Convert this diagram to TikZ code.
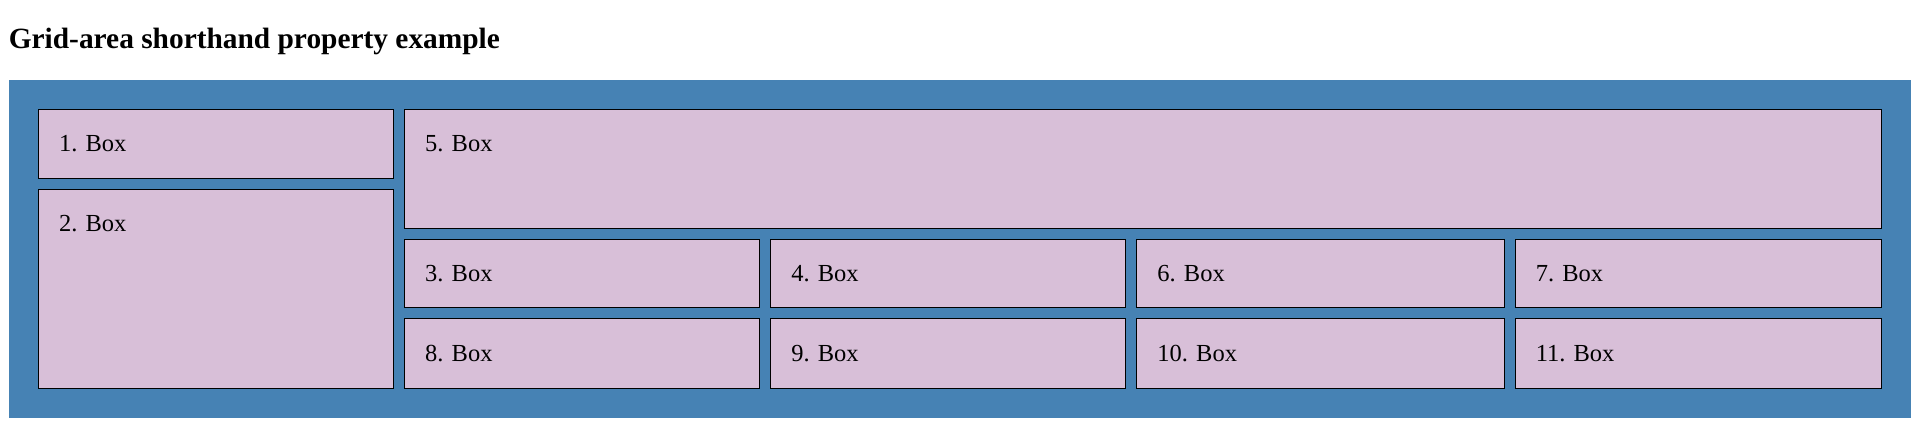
\documentclass[tikz,border=0pt]{standalone}
\usepackage{fontspec}
\setmainfont{Liberation Serif}
\definecolor{steel}{HTML}{4682B4}
\definecolor{thist}{HTML}{D8BFD8}
\begin{document}
\begin{tikzpicture}[x=1pt,y=-1pt,
  gbox/.style={draw=black,line width=0.8pt,fill=thist,inner sep=0pt,anchor=north west},
  lbl/.style={anchor=base west,inner sep=0pt,font=\fontsize{20}{24}\selectfont}]
\useasboundingbox (0,0) rectangle (1568,345.4);
\fill[white] (0,0) rectangle (1568,345.4);
\node[anchor=base west,inner sep=0pt,font=\fontsize{24}{28}\selectfont\bfseries] (title) at (7,40) {Grid-area shorthand property example};
\fill[steel] (7,65) rectangle (1561,341);
\newcommand\gb[6]{%
  \node[gbox,minimum width=#4pt,minimum height=#5pt] (#1) at (#2,#3) {};
  \node[lbl] (#1t) at ([xshift=17pt,yshift=-35pt]#1.north west) {#6};}
\gb{b1}{31}{89}{290}{56}{1. Box}
\gb{b2}{31}{154}{290}{163}{2. Box}
\gb{b5}{330}{89}{1206}{97}{5. Box}
\gb{b3}{330}{195}{290}{56}{3. Box}
\gb{b4}{629}{195}{290}{56}{4. Box}
\gb{b6}{928}{195}{300}{56}{6. Box}
\gb{b7}{1237}{195}{299}{56}{7. Box}
\gb{b8}{330}{260}{290}{57}{8. Box}
\gb{b9}{629}{260}{290}{57}{9. Box}
\gb{b10}{928}{260}{300}{57}{10. Box}
\gb{b11}{1237}{260}{299}{57}{11. Box}
\end{tikzpicture}
\end{document}
